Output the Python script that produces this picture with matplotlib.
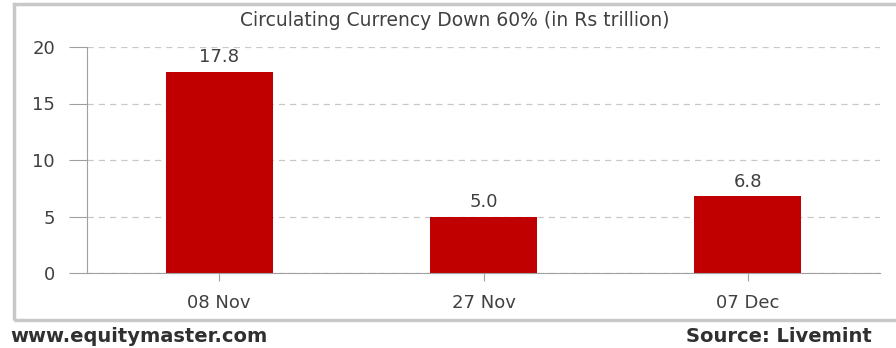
import matplotlib

matplotlib.use("Agg")
import matplotlib.pyplot as plt
from matplotlib.patches import Rectangle

DATES = ["08 Nov", "27 Nov", "07 Dec"]
CURRENCY = [17.8, 5.0, 6.8]
Y_TICKS = [0, 5, 10, 15, 20]
TITLE = "Circulating Currency Down 60% (in Rs trillion)"

BAR_COLOR = "#C00000"
TEXT_COLOR = "#404040"
AXIS_COLOR = "#A0A0A0"

plt.rcParams["font.family"] = ["DejaVu Sans"]

fig = plt.figure(figsize=(8.96, 3.48), dpi=100)

# outer chart frame
fig.patches.append(Rectangle((14 / 896, 1 - 320 / 348), 1.0, 316 / 348,
                             transform=fig.transFigure, fill=False,
                             edgecolor="#C8C8C8", linewidth=2.5))

ax = fig.add_axes([87 / 896, 1 - 273 / 348, (880 - 87) / 896, (273 - 47) / 348])
x = range(len(DATES))
bars = ax.bar(x, CURRENCY, width=0.405, color=BAR_COLOR)
for b, v in zip(bars, CURRENCY):
    ax.text(b.get_x() + b.get_width() / 2, v + 0.5, f"{v:.1f}",
            ha="center", va="bottom", fontsize=13, color=TEXT_COLOR)

ax.set_xlim(-0.5, len(DATES) - 0.5)
ax.set_ylim(0, 20)
ax.set_yticks(Y_TICKS)
ax.set_xticks(list(x), DATES)
ax.tick_params(axis="both", colors=AXIS_COLOR, labelcolor=TEXT_COLOR, labelsize=13,
               direction="out", length=6)
ax.tick_params(axis="y", pad=10, length=13)
ax.tick_params(axis="x", pad=9)
for s in ["top", "right"]:
    ax.spines[s].set_visible(False)
for s in ["left", "bottom"]:
    ax.spines[s].set_color(AXIS_COLOR)
ax.yaxis.grid(True, linestyle=(0, (5, 4)), color="#C8C8C8", linewidth=0.9)
ax.set_axisbelow(True)

fig.text(455 / 896, 1 - 20 / 348, TITLE, ha="center", va="center",
         fontsize=13.5, color=TEXT_COLOR)
fig.text(10 / 896, 1 - 337 / 348, "www.equitymaster.com", ha="left", va="center",
         fontsize=14, fontweight="bold", color="#303030")
fig.text(686 / 896, 1 - 337 / 348, "Source: Livemint", ha="left", va="center",
         fontsize=14, fontweight="bold", color="#303030")

fig.savefig("out.png", dpi=100)
